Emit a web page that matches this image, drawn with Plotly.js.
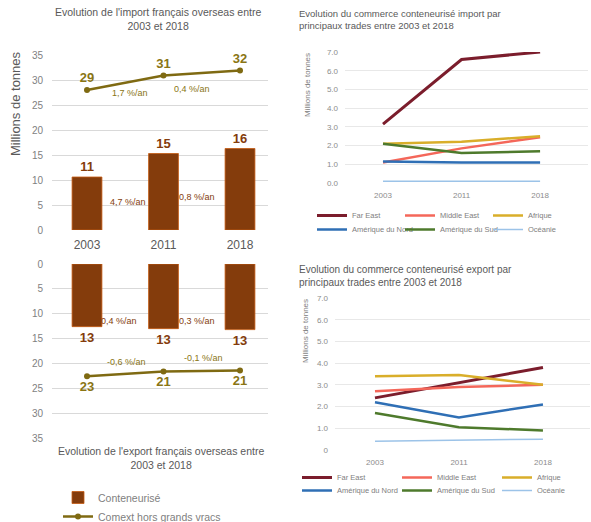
<!DOCTYPE html>
<html><head><meta charset="utf-8">
<script src="https://cdn.plot.ly/plotly-3.0.1.min.js"></script>
<style>html,body{margin:0;padding:0;background:#fff}#c{width:591px;height:522px}</style>
</head><body><div id="c"></div>
<script>
// ---- data ----
const years = ['2003', '2011', '2018'];
const importConteneurise = [10.6, 15.3, 16.3];
const importConteneuriseLabels = ['11', '15', '16'];
const importComext = [28.0, 30.9, 31.9];
const importComextLabels = ['29', '31', '32'];
const exportConteneurise = [12.6, 13.0, 13.2];
const exportConteneuriseLabels = ['13', '13', '13'];
const exportComext = [22.6, 21.6, 21.4];
const exportComextLabels = ['23', '21', '21'];
const importBarRates = ['4,7 %/an', '0,8 %/an'];
const importLineRates = ['1,7 %/an', '0,4 %/an'];
const exportBarRates = ['0,4 %/an', '0,3 %/an'];
const exportLineRates = ['-0,6 %/an', '-0,1 %/an'];
const trades = ['Far East', 'Middle East', 'Afrique', 'Amérique du Nord', 'Amérique du Sud', 'Océanie'];
const importFarEast = [3.15, 6.6, 7.0];
const importMiddleEast = [1.1, 1.85, 2.45];
const importAfrique = [2.1, 2.2, 2.5];
const importAmNord = [1.15, 1.1, 1.1];
const importAmSud = [2.1, 1.6, 1.7];
const importOceanie = [0.1, 0.1, 0.1];
const exportFarEast = [2.4, 3.1, 3.8];
const exportMiddleEast = [2.7, 2.9, 3.0];
const exportAfrique = [3.4, 3.45, 3.0];
const exportAmNord = [2.2, 1.5, 2.1];
const exportAmSud = [1.7, 1.05, 0.9];
const exportOceanie = [0.4, 0.45, 0.5];
const rightTicks = [0, 1, 2, 3, 4, 5, 6, 7];

// ---- styles ----
const FONT = 'Liberation Sans, Arial, sans-serif';
const BROWN = '#843C0C';
const OLIVE = '#7F6A12';
const OLIVE_TXT = '#8A7514';
const tradeColors = ['#7B1D2C', '#F4675A', '#D9AE2A', '#2F6FB5', '#4E7A2C', '#9CC3E8'];
const tradeWidths = [3, 2.5, 2.5, 2.5, 2.5, 1.5];

const traces = [];
traces.push({type: 'bar', x: years, y: importConteneurise, xaxis: 'x', yaxis: 'y', width: 0.39,
  marker: {color: BROWN, line: {color: '#C55A11', width: 0.8}}, name: 'Conteneurisé', legend: 'legend3',
  text: importConteneuriseLabels, textposition: 'outside', cliponaxis: false,
  textfont: {color: BROWN, size: 13, family: FONT, weight: 'bold'}});
traces.push({type: 'scatter', mode: 'lines+markers+text', x: years, y: importComext, xaxis: 'x', yaxis: 'y',
  line: {color: OLIVE, width: 2.5}, marker: {color: OLIVE, size: 6}, name: 'Comext hors grands vracs', legend: 'legend3',
  text: importComextLabels, textposition: 'top center', cliponaxis: false,
  textfont: {color: OLIVE_TXT, size: 13, family: FONT, weight: 'bold'}});
traces.push({type: 'bar', x: years, y: exportConteneurise, xaxis: 'x2', yaxis: 'y2', width: 0.39,
  marker: {color: BROWN, line: {color: '#C55A11', width: 0.8}}, showlegend: false,
  text: exportConteneuriseLabels, textposition: 'outside', cliponaxis: false,
  textfont: {color: BROWN, size: 13, family: FONT, weight: 'bold'}});
traces.push({type: 'scatter', mode: 'lines+markers+text', x: years, y: exportComext, xaxis: 'x2', yaxis: 'y2',
  line: {color: OLIVE, width: 2.5}, marker: {color: OLIVE, size: 6}, showlegend: false,
  text: exportComextLabels, textposition: 'bottom center', cliponaxis: false,
  textfont: {color: OLIVE_TXT, size: 13, family: FONT, weight: 'bold'}});

const impSeries = [importFarEast, importMiddleEast, importAfrique, importAmNord, importAmSud, importOceanie];
const expSeries = [exportFarEast, exportMiddleEast, exportAfrique, exportAmNord, exportAmSud, exportOceanie];
impSeries.forEach((s, i) => traces.push({type: 'scatter', mode: 'lines', x: years, y: s, xaxis: 'x3', yaxis: 'y3',
  name: trades[i], legend: i < 3 ? 'legend' : 'legend4', line: {color: tradeColors[i], width: tradeWidths[i]}}));
expSeries.forEach((s, i) => traces.push({type: 'scatter', mode: 'lines', x: years, y: s, xaxis: 'x4', yaxis: 'y4',
  name: trades[i], legend: i < 3 ? 'legend2' : 'legend5', line: {color: tradeColors[i], width: tradeWidths[i]}}));

function px2x(p) { return p / 591; }
function px2y(p) { return 1 - p / 522; }

const leftX = {domain: [px2x(52), px2x(268)], range: [-0.4575, 2.366], type: 'category', showgrid: false,
  zeroline: false, showline: false, ticks: ''};
const leftY = {dtick: 5, gridcolor: '#d9d9d9', gridwidth: 1, zeroline: false, showline: false,
  tickfont: {size: 10, color: '#7f7f7f'}, ticklabelstandoff: 8};
const rightY = {tickvals: rightTicks, gridcolor: '#e8e8e8', zeroline: false, showline: false,
  tickfont: {size: 8, color: '#8c8c8c'}, ticklabelstandoff: 6};

const annotations = [];
function ann(text, x, y, xref, yref, color, size, extra) {
  annotations.push(Object.assign({text, x, y, xref, yref, showarrow: false, xanchor: 'center', yanchor: 'middle',
    font: {color, size, family: FONT}}, extra || {}));
}
ann(importLineRates[0], 0.56, 27.4, 'x', 'y', OLIVE_TXT, 9);
ann(importLineRates[1], 1.37, 28.2, 'x', 'y', OLIVE_TXT, 9);
ann(importBarRates[0], 0.54, 5.6, 'x', 'y', BROWN, 9);
ann(importBarRates[1], 1.44, 6.6, 'x', 'y', BROWN, 9);
ann(exportBarRates[0], 0.42, 11.4, 'x2', 'y2', BROWN, 9);
ann(exportBarRates[1], 1.44, 11.4, 'x2', 'y2', BROWN, 9);
ann(exportLineRates[0], 0.52, 19.8, 'x2', 'y2', OLIVE_TXT, 9);
ann(exportLineRates[1], 1.52, 19.0, 'x2', 'y2', OLIVE_TXT, 9);
ann('Evolution de l\'import français overseas entre<br>2003 et 2018', px2x(158), px2y(19), 'paper', 'paper', '#595959', 10.5, {align: 'center'});
ann('Evolution de l\'export français overseas entre<br>2003 et 2018', px2x(161), px2y(458), 'paper', 'paper', '#595959', 10.5, {align: 'center'});
ann('Evolution du commerce conteneurisé import par<br>principaux trades entre 2003 et 2018', px2x(297), px2y(20), 'paper', 'paper', '#595959', 9.5, {align: 'left', xanchor: 'left'});
ann('Evolution du commerce conteneurisé export par<br>principaux trades entre 2003 et 2018', px2x(297), px2y(276), 'paper', 'paper', '#595959', 10, {align: 'left', xanchor: 'left'});
ann('Millions de tonnes', px2x(15), px2y(104), 'paper', 'paper', '#595959', 13, {textangle: -90});
ann('Millions de tonnes', px2x(307), px2y(85), 'paper', 'paper', '#808080', 8, {textangle: -90});
ann('Millions de tonnes', px2x(305), px2y(331), 'paper', 'paper', '#808080', 8, {textangle: -90});

const legendBase = {xanchor: 'left', yanchor: 'top', xref: 'container', yref: 'container',
  bgcolor: 'rgba(0,0,0,0)', itemclick: false, tracegroupgap: 0};
const rowLegend = (xpx, ypx, ew) => Object.assign({}, legendBase, {orientation: 'h', x: px2x(xpx), y: px2y(ypx),
  entrywidth: ew, entrywidthmode: 'pixels', font: {size: 7.5, color: '#808080'}});
const layout = {
  width: 591, height: 522, margin: {l: 0, r: 0, t: 0, b: 0, autoexpand: false},
  paper_bgcolor: '#fff', plot_bgcolor: 'rgba(0,0,0,0)',
  font: {family: FONT, color: '#595959'},
  showlegend: true,
  xaxis: Object.assign({}, leftX, {anchor: 'y', tickfont: {size: 12, color: '#595959'}, ticklabelstandoff: 6}),
  yaxis: Object.assign({}, leftY, {domain: [px2y(230), px2y(55)], range: [0, 35], anchor: 'x'}),
  xaxis2: Object.assign({}, leftX, {anchor: 'y2', showticklabels: false}),
  yaxis2: Object.assign({}, leftY, {domain: [px2y(438), px2y(264)], range: [35, 0], anchor: 'x2'}),
  xaxis3: {domain: [px2x(345), px2x(588)], range: [-0.484, 2.61], type: 'category', anchor: 'y3', showgrid: false,
    zeroline: false, ticks: '', tickfont: {size: 8, color: '#8c8c8c'}, ticklabelstandoff: 6},
  yaxis3: Object.assign({}, rightY, {domain: [px2y(183), px2y(52)], range: [0, 7], anchor: 'x3',
    ticktext: rightTicks.map(v => v.toFixed(1))}),
  xaxis4: {domain: [px2x(335), px2x(590)], range: [-0.476, 2.56], type: 'category', anchor: 'y4', showgrid: false,
    zeroline: false, ticks: '', tickfont: {size: 8, color: '#8c8c8c'}, ticklabelstandoff: 6},
  yaxis4: Object.assign({}, rightY, {domain: [px2y(450), px2y(298)], range: [0, 7], anchor: 'x4',
    ticktext: rightTicks.map(v => v === 0 ? '0' : v.toFixed(1))}),
  legend: rowLegend(312, 201, 43),
  legend4: rowLegend(312, 215, 43),
  legend2: rowLegend(297, 463, 55),
  legend5: rowLegend(297, 476, 55),
  legend3: Object.assign({}, legendBase, {orientation: 'v', x: px2x(58), y: px2y(483),
    font: {size: 10.5, color: '#808080'}}),
  annotations
};
Plotly.newPlot('c', traces, layout, {staticPlot: true, displayModeBar: false});
</script></body></html>
